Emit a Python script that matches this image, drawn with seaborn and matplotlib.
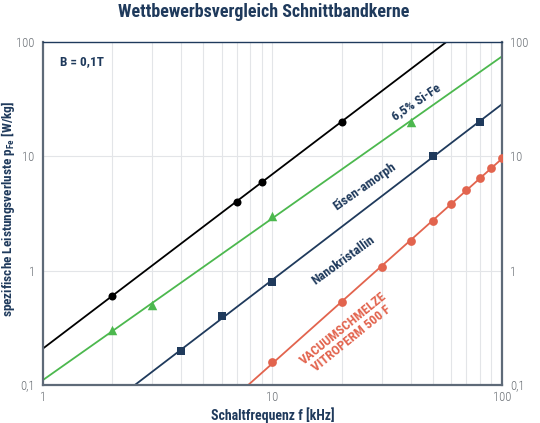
import numpy as np
import matplotlib
matplotlib.use("Agg")
import matplotlib.pyplot as plt
from matplotlib.ticker import FixedLocator, FixedFormatter, NullFormatter
import seaborn as sns

# values (f in kHz, p in W/kg)
sife_f = [2, 7, 9, 20]
sife_p = [0.6, 4, 6, 20]
amorph_f = [2, 3, 10, 40]
amorph_p = [0.3, 0.5, 3, 20]
nano_f = [4, 6, 10, 50, 80]
nano_p = [0.2, 0.4, 0.8, 10, 20]
vac_f = [10, 20, 30, 40, 50, 60, 70, 80, 90, 100]
vac_p = [0.16, 0.53, 1.07, 1.8, 2.7, 3.8, 5.1, 6.45, 7.95, 9.65]

y_ticks = [0.1, 1, 10, 100]
y_ticklabels = ["0,1", "1", "10", "100"]
x_ticks = [1, 10, 100]
x_ticklabels = ["1", "10", "100"]

navy = "#1f3a5c"
red = "#e2644e"
sns.set_style("white")
plt.rcParams['font.family'] = ['Roboto Condensed', 'DejaVu Sans']
plt.rcParams['mathtext.fontset'] = 'custom'
plt.rcParams['mathtext.bf'] = 'Roboto Condensed:bold'
plt.rcParams['mathtext.rm'] = 'Roboto Condensed'

fig = plt.figure(figsize=(5.4, 4.23), dpi=100)
ax = fig.add_axes([0.0796, 0.0898, 0.85, 0.8116])
ax.set_xscale("log")
ax.set_yscale("log")

# grid: vertical at every minor step, horizontal at decades only
for f in [v * d for d in (1, 10) for v in range(2, 10)] + [10]:
    ax.axvline(f, color="#e3e5e8", lw=0.8, zorder=0)
for p in [1, 10]:
    ax.axhline(p, color="#e3e5e8", lw=0.8, zorder=0)

series = [
    (sife_f, sife_p, "black", "o", 5.5),
    (amorph_f, amorph_p, "#4cb84e", "^", 6.5),
    (nano_f, nano_p, navy, "s", 5.5),
    (vac_f, vac_p, red, "o", 6),
]
line_f = np.logspace(0, 2, 50)
for f, p, col, mk, ms in series:
    k, c = np.polyfit(np.log10(f), np.log10(p), 1)
    fit = 10 ** (c + k * np.log10(line_f))
    sns.lineplot(x=line_f, y=fit, color=col, lw=1.3, ax=ax, zorder=2)
    sns.scatterplot(x=f, y=p, color=col, marker=mk, s=ms ** 2 * 1.1,
                    edgecolor=col, linewidth=0, ax=ax, zorder=3)

ax.set_xlim(1, 100)
ax.set_ylim(0.1, 100)

ax.xaxis.set_major_locator(FixedLocator(x_ticks))
ax.xaxis.set_major_formatter(FixedFormatter(x_ticklabels))
ax.xaxis.set_minor_formatter(NullFormatter())
ax.yaxis.set_major_locator(FixedLocator(y_ticks))
ax.yaxis.set_major_formatter(FixedFormatter(y_ticklabels))
ax.yaxis.set_minor_formatter(NullFormatter())
ax.tick_params(which="both", length=0, labelsize=9, labelcolor="#6a6f75",
               labelright=True)
ax.tick_params(axis="y", pad=6)
ax.tick_params(axis="x", pad=4)
for lab in ax.get_xticklabels() + ax.get_yticklabels():
    lab.set_fontweight(300)

for s in ax.spines.values():
    s.set_color("#5e6a78")
    s.set_linewidth(1.6)
ax.spines["top"].set_color(navy)
ax.spines["top"].set_linewidth(1.0)

ax.set_xlabel("Schaltfrequenz f [kHz]", fontsize=10, fontweight="bold",
              color=navy, labelpad=3)
ax.set_ylabel("spezifische Leistungsverluste p$_{\\mathbf{Fe}}$ [W/kg]",
              fontsize=9.5, fontweight="bold", color=navy)
ax.yaxis.set_label_coords(-0.057, 0.513)
fig.suptitle("Wettbewerbsvergleich Schnittbandkerne", x=0.488, y=0.992,
             fontsize=13, fontweight="bold", color=navy)

ax.text(0.085, 0.942, "B = 0,1T", transform=ax.transAxes, ha="center",
        va="center", fontsize=9.5, fontweight="bold", color=navy)
ax.text(42.3, 29.9, "6,5% Si-Fe", rotation=34, ha="center", va="center",
        fontsize=9.5, fontweight="bold", color=navy)
ax.text(25.2, 5.4, "Eisen-amorph", rotation=35, ha="center", va="center",
        fontsize=9.5, fontweight="bold", color=navy)
ax.text(20.3, 1.24, "Nanokristallin", rotation=36, ha="center", va="center",
        fontsize=9.5, fontweight="bold", color=navy)
ax.text(21.3, 0.283, "VACUUMSCHMELZE\nVITROPERM 500 F", rotation=39,
        ha="center", va="center", fontsize=9.5, fontweight="bold",
        color=red, linespacing=1.0)

fig.savefig("out.png", dpi=100)
